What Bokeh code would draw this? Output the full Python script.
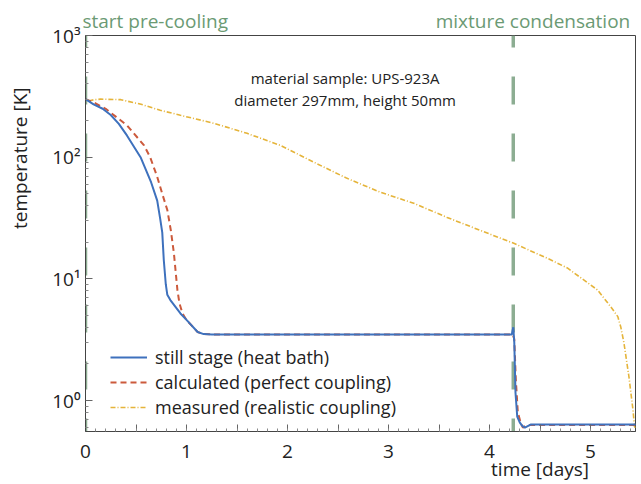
from bokeh.plotting import figure
from bokeh.models import (Range1d, FixedTicker, CustomJSTickFormatter, Label,
                          Legend, LegendItem, LinearAxis)
from bokeh.embed import file_html
from bokeh.resources import INLINE

# ---------------- data ----------------
still_t = [0, 0.08, 0.17, 0.25, 0.33, 0.41, 0.545, 0.65, 0.71, 0.74, 0.76, 0.775,
           0.795, 0.81, 0.84, 0.94, 1.0, 1.11, 1.17, 1.25, 4.22, 4.235, 4.245,
           4.257, 4.274, 4.3, 4.324, 4.35, 4.406, 5.45]
still_T = [300, 272, 250, 222, 188, 151, 100, 62, 44, 31, 24, 14.3,
           9.0, 7.4, 6.7, 5.2, 4.6, 3.66, 3.52, 3.5, 3.5, 4.0, 3.0,
           1.16, 0.74, 0.66, 0.62, 0.6, 0.635, 0.635]

calc_t = [0, 0.08, 0.2, 0.41, 0.58, 0.64, 0.71, 0.76, 0.81, 0.845, 0.875, 0.91,
          0.93, 0.96, 1.0, 1.11, 1.17, 1.25, 4.23, 4.245, 4.26, 4.28, 4.31,
          4.33, 4.36, 4.4, 5.45]
calc_T = [300, 282, 250, 183, 125, 100, 69, 50, 36.8, 25, 16.3, 8.1,
          6.3, 5.2, 4.6, 3.66, 3.52, 3.5, 3.5, 3.2, 1.5, 0.8, 0.65,
          0.6, 0.62, 0.63, 0.63]

meas_t = [0.03, 0.08, 0.15, 0.35, 0.55, 0.74, 0.94, 1.27, 1.60, 1.93, 2.26, 2.59,
          2.92, 3.25, 3.58, 3.91, 4.24, 4.57, 4.77, 5.07, 5.2, 5.27, 5.3, 5.33,
          5.38, 5.42, 5.435, 5.45]
meas_T = [290, 296, 300, 297, 272, 243, 221, 190, 157, 125, 91, 67,
          51.5, 41.8, 32, 25, 19.6, 14.8, 12.3, 8.1, 5.9, 4.9, 4.0, 3.0,
          1.57, 0.84, 0.61, 0.6]

event_t = [0.0, 4.235]
event_names = ["start pre-cooling", "mixture condensation"]
event_label_t = [0.69, 4.43]
series_names = ["still stage (heat bath)", "calculated (perfect coupling)",
                "measured (realistic coupling)"]
x_major = [0, 0.5, 1, 1.5, 2, 2.5, 3, 3.5, 4, 4.5, 5]
x_title = "time [days]"
x_title_t = 4.5
y_major = [1, 10, 100, 1000]
y_title = "temperature [K]"
y_title_T = 98
sample_text = ["material sample: UPS-923A", "diameter 297mm, height 50mm"]

X_MAX = 5.445
Y_MIN, Y_MAX = 10 ** -0.254, 1000

FONT = "Open Sans"
GREEN_LINE = "#8cad92"
GREEN_TEXT = "#6b9a74"
BLUE = "#3e71bd"
RED = "#cc5a3c"
YELLOW = "#e5b43a"
INK = "#222222"

p = figure(width=641, height=484, y_axis_type="log", output_backend="svg",
           toolbar_location=None, x_range=Range1d(0, X_MAX),
           y_range=Range1d(Y_MIN, Y_MAX),
           min_border_left=85, min_border_right=6, min_border_top=35,
           min_border_bottom=52)
p.grid.visible = False
p.outline_line_color = "#444444"
p.outline_line_width = 1
p.background_fill_color = "white"
p.border_fill_color = "white"

# event lines
for t in event_t:
    p.line([t, t], [Y_MAX, Y_MIN], line_color=GREEN_LINE, line_width=3.5,
           line_dash="28 29", line_dash_offset=16)

r_meas = p.line(meas_t, meas_T, line_color=YELLOW, line_width=1.6,
                line_dash="5 2 1 2")
r_calc = p.line(calc_t, calc_T, line_color=RED, line_width=2,
                line_dash="6 4")
r_still = p.line(still_t, still_T, line_color=BLUE, line_width=2)

# axes
for ax in (p.xaxis[0], p.yaxis[0]):
    ax.major_tick_in = 7
    ax.major_tick_out = 0
    ax.minor_tick_in = 3
    ax.minor_tick_out = 0
    ax.axis_line_color = "#444444"
    ax.major_tick_line_color = "#666666"
    ax.minor_tick_line_color = "#888888"
    ax.major_label_text_font = FONT
    ax.major_label_text_font_size = "19px"
    ax.major_label_text_color = INK

p.xaxis.ticker = FixedTicker(ticks=x_major,
                             minor_ticks=[i / 10 for i in range(0, 55)])
p.xaxis.formatter = CustomJSTickFormatter(
    args=dict(pos=x_title_t, title=x_title),
    code="""
if (Math.abs(tick - pos) < 1e-9) return ' \\n' + title;
return Number.isInteger(tick) ? String(tick) : '';
""")
p.xaxis.major_label_standoff = 6
p.xaxis.major_label_text_line_height = 0.7

minor_y = [m * 10 ** d for d in range(-1, 3) for m in range(2, 10)
           if Y_MIN <= m * 10 ** d <= Y_MAX]
p.yaxis.ticker = FixedTicker(ticks=y_major, minor_ticks=minor_y)
p.yaxis.formatter = CustomJSTickFormatter(code="""
const e = Math.round(Math.log10(tick));
const sup = {'0':'\\u2070','1':'\\u00b9','2':'\\u00b2','3':'\\u00b3','-':'\\u207b'};
return '10' + String(e).split('').map(c => sup[c]).join('');
""")
p.yaxis.major_label_standoff = 5

# event names above the frame
top_axis = LinearAxis(
    ticker=FixedTicker(ticks=event_label_t),
    formatter=CustomJSTickFormatter(
        args=dict(pos=event_label_t, names=event_names),
        code="""
for (let i = 0; i < pos.length; i++) {
  if (Math.abs(tick - pos[i]) < 1e-9) return names[i];
}
return '';
"""),
    axis_line_color=None, major_tick_line_color=None,
    minor_tick_line_color=None, major_tick_in=0, major_tick_out=0,
    major_label_standoff=2, major_label_text_font=FONT,
    major_label_text_font_size="19px", major_label_text_color=GREEN_TEXT)
p.add_layout(top_axis, "above")

# y title: placed as a label of an extra left axis, at its reference height
title_axis = LinearAxis(
    ticker=FixedTicker(ticks=[y_title_T]),
    formatter=CustomJSTickFormatter(args=dict(title=y_title),
                                    code="return title;"),
    axis_line_color=None, major_tick_line_color=None,
    minor_tick_line_color=None, major_tick_in=0, major_tick_out=0,
    major_label_orientation="parallel",
    major_label_standoff=16, major_label_text_font=FONT,
    major_label_text_font_size="19px", major_label_text_color=INK)
p.add_layout(title_axis, "left")

# sample description inside the frame
p.add_layout(Label(x=2.57, y=10 ** 2.647, text=sample_text[0],
                   text_font=FONT, text_font_size="15px", text_color=INK,
                   text_align="center", text_baseline="middle"))
p.add_layout(Label(x=2.57, y=10 ** 2.467, text=sample_text[1],
                   text_font=FONT, text_font_size="15px", text_color=INK,
                   text_align="center", text_baseline="middle"))

legend = Legend(items=[LegendItem(label=series_names[0], renderers=[r_still]),
                       LegendItem(label=series_names[1], renderers=[r_calc]),
                       LegendItem(label=series_names[2], renderers=[r_meas])],
                location=(25, 12), border_line_color=None,
                background_fill_alpha=0, padding=0, margin=0, spacing=0,
                glyph_width=37, glyph_height=20, label_height=25,
                label_standoff=8, label_text_font=FONT,
                label_text_font_size="18px", label_text_color=INK)
p.add_layout(legend)

open("out.html", "w").write(file_html(p, INLINE))
